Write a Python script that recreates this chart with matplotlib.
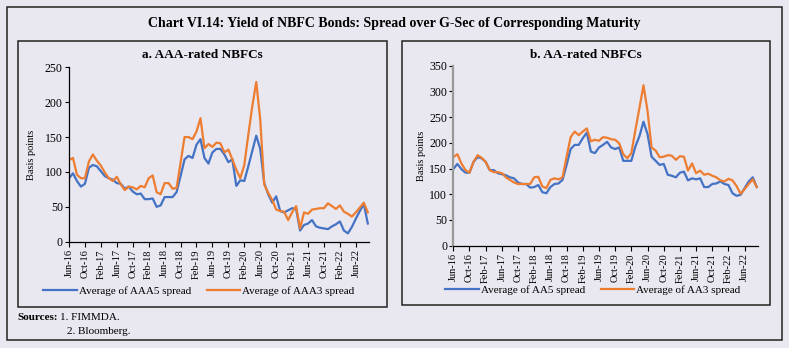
import matplotlib
matplotlib.use("Agg")
import matplotlib.pyplot as plt
from matplotlib.patches import Rectangle
import numpy as np

plt.rcParams['font.family'] = ['Liberation Serif', 'DejaVu Serif']

# monthly observations, Jun-16 .. Sep-22
aaa5 = [91, 98, 87, 79, 83, 106, 110, 108, 101, 94, 91, 89, 84, 83, 76, 79, 72, 68, 69, 61,
        61, 62, 50, 52, 64, 64, 64, 71, 94, 118, 123, 120, 139, 147, 120, 112, 128, 133, 133, 125,
        114, 118, 80, 88, 87, 108, 130, 152, 133, 84, 68, 56, 65, 44, 42, 45, 48, 47, 16, 24,
        26, 31, 22, 20, 19, 18, 22, 25, 29, 16, 12, 21, 33, 44, 54, 26]
aaa3 = [117, 120, 96, 91, 91, 115, 125, 116, 109, 99, 91, 87, 93, 82, 74, 79, 78, 75, 80, 78,
        91, 95, 71, 68, 84, 84, 76, 77, 113, 150, 150, 147, 158, 177, 134, 140, 136, 142, 141, 128,
        132, 118, 103, 91, 110, 153, 194, 229, 175, 82, 70, 60, 46, 44, 43, 31, 42, 51, 19, 42,
        40, 46, 47, 48, 48, 55, 51, 47, 52, 43, 40, 36, 42, 49, 56, 42]
aa5 = [149, 159, 149, 142, 142, 163, 172, 170, 163, 147, 147, 141, 139, 137, 133, 131, 123, 120, 120, 113,
       114, 118, 104, 102, 114, 120, 121, 128, 157, 188, 196, 196, 209, 220, 183, 180, 191, 196, 202, 191,
       188, 191, 165, 165, 165, 193, 213, 241, 217, 173, 165, 157, 159, 138, 136, 133, 142, 144, 127, 131,
       129, 131, 114, 114, 120, 121, 125, 120, 118, 102, 97, 99, 112, 125, 133, 114]
aa3 = [172, 178, 160, 147, 142, 163, 176, 171, 163, 147, 143, 143, 141, 133, 128, 123, 120, 120, 120, 120,
       133, 134, 115, 112, 128, 131, 129, 133, 173, 211, 222, 215, 222, 228, 203, 206, 204, 211, 210, 207,
       206, 199, 178, 170, 180, 225, 268, 312, 262, 191, 185, 172, 173, 176, 175, 167, 174, 173, 146, 160,
       141, 146, 138, 140, 136, 133, 127, 125, 130, 127, 116, 101, 110, 120, 129, 114]
tick_labels = ['Jun-16', 'Oct-16', 'Feb-17', 'Jun-17', 'Oct-17', 'Feb-18', 'Jun-18', 'Oct-18',
               'Feb-19', 'Jun-19', 'Oct-19', 'Feb-20', 'Jun-20', 'Oct-20', 'Feb-21', 'Jun-21',
               'Oct-21', 'Feb-22', 'Jun-22']

bg = '#e9e7ef'
blue = '#4472c4'
orange = '#ed7d31'
W, H = 789, 348

fig = plt.figure(figsize=(W / 100, H / 100), dpi=100)
fig.patch.set_facecolor(bg)


def box(x0, y0, x1, y1):
    # pixel coords from the top-left corner
    fig.patches.append(Rectangle((x0 / W, 1 - y1 / H), (x1 - x0) / W, (y1 - y0) / H,
                                 transform=fig.transFigure, fill=False,
                                 edgecolor='#222222', lw=1.1))


box(7, 7, 782, 340)
box(18, 41, 387, 307)
box(402, 41, 770, 305)

fig.text(0.5, 1 - 24 / H, 'Chart VI.14: Yield of NBFC Bonds: Spread over G-Sec of Corresponding Maturity',
         ha='center', va='center', fontsize=10, fontweight='bold')


def panel(rect, s5, s3, ymax, title, title_x, lab5, lab3, leg_x, leg_y, ylab_x, grey_spine):
    ax = fig.add_axes(rect)
    ax.set_facecolor(bg)
    x = np.arange(len(s5))
    ax.plot(x, s5, color=blue, lw=1.6, label=lab5)
    ax.plot(x, s3, color=orange, lw=1.6, label=lab3)
    ax.set_xlim(0, 75.3)
    ax.set_ylim(0, ymax)
    ax.set_yticks(range(0, ymax + 1, 50))
    ax.set_xticks(range(0, 73, 4))
    ax.set_xticklabels(tick_labels, rotation=90, fontsize=7.5)
    ax.tick_params(axis='y', labelsize=8.5, length=3, width=0.8, pad=1.5)
    ax.tick_params(axis='x', length=3.5, width=0.8, pad=2)
    for s in ['top', 'right']:
        ax.spines[s].set_visible(False)
    ax.spines['bottom'].set_linewidth(0.9)
    if grey_spine:
        ax.spines['left'].set_color('#9a9a9a')
        ax.spines['left'].set_linewidth(1.6)
    else:
        ax.spines['left'].set_linewidth(0.9)
    fig.text(ylab_x / W, rect[1] + rect[3] / 2, 'Basis points', rotation=90,
             ha='center', va='center', fontsize=7.5)
    fig.text(title_x / W, 1 - 55 / H, title, ha='center', va='center',
             fontsize=9.5, fontweight='bold')
    ax.legend(loc='center', bbox_to_anchor=(leg_x / W, 1 - leg_y / H),
              bbox_transform=fig.transFigure, ncol=2, frameon=False,
              fontsize=8, handlelength=3.0, handletextpad=0.2, columnspacing=1.4)
    return ax


panel([69 / W, 1 - 241.7 / H, 300 / W, 174.4 / H], aaa5, aaa3, 250,
      'a. AAA-rated NBFCs', 202, 'Average of AAA5 spread', 'Average of AAA3 spread',
      199, 291, 32, False)
panel([453.3 / W, 1 - 245.7 / H, 304.7 / W, 180 / H], aa5, aa3, 350,
      'b. AA-rated NBFCs', 586, 'Average of AA5 spread', 'Average of AA3 spread',
      593, 290, 422, True)

fig.text(17 / W, 1 - 318 / H, 'Sources:', fontsize=8, fontweight='bold', va='center')
fig.text(60 / W, 1 - 318 / H, '1. FIMMDA.', fontsize=8, va='center')
fig.text(67 / W, 1 - 331 / H, '2. Bloomberg.', fontsize=8, va='center')

fig.savefig('out.png', dpi=100, facecolor=bg)
